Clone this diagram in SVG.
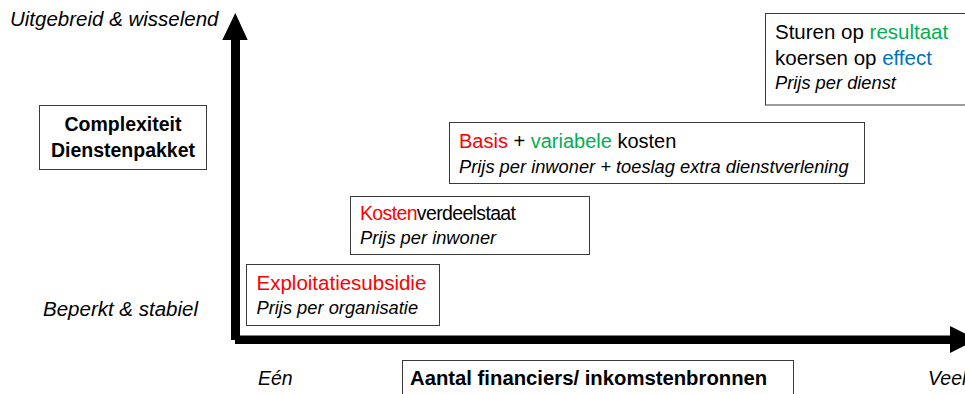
<svg xmlns="http://www.w3.org/2000/svg" width="965" height="394" viewBox="0 0 965 394">
<style>
text{font-family:"Liberation Sans",Arial,sans-serif;fill:#000}
.box{fill:#fff;stroke:#3a3a3a;stroke-width:1}
.main{font-size:20.5px}
.sub{font-size:18.3px;font-style:italic}
.axl{font-size:20.5px;font-style:italic}
.bold{font-size:19.5px;font-weight:bold}
.red{fill:#FF0000}
.green{fill:#00B050}
.blue{fill:#0070C0}
</style>
<rect width="965" height="394" fill="#fff"/>
<g id="axes">
<rect x="231" y="38" width="9" height="302" fill="#000"/>
<polygon points="222.3,40 247.7,40 235.3,13" fill="#000"/>
<rect x="235" y="335.5" width="716" height="8.5" fill="#000"/>
<polygon points="950,326 950,353 977,339.5" fill="#000"/>
</g>
<g id="axis-labels">
<text class="axl" x="10" y="26">Uitgebreid &amp; wisselend</text>
<text class="axl" x="43" y="316">Beperkt &amp; stabiel</text>
<text class="axl" x="258" y="385" style="font-size:19.5px">Eén</text>
<text class="axl" x="928" y="385" style="font-size:19.5px">Veel</text>
</g>
<g id="y-title">
<rect class="box" x="39.5" y="105.5" width="167" height="64"/>
<text class="bold" x="123" y="130.5" text-anchor="middle">Complexiteit</text>
<text class="bold" x="123" y="157" text-anchor="middle">Dienstenpakket</text>
</g>
<g id="x-title">
<rect class="box" x="402.5" y="360.5" width="391" height="44"/>
<text class="bold" x="410" y="385" style="font-size:20.3px">Aantal financiers/ inkomstenbronnen</text>
</g>
<g id="exploitatie">
<rect class="box" x="246.5" y="264.5" width="193" height="61"/>
<text class="main red" x="256.5" y="290">Exploitatiesubsidie</text>
<text class="sub" x="256.5" y="314">Prijs per organisatie</text>
</g>
<g id="kosten">
<rect class="box" x="350.5" y="196.5" width="239" height="58"/>
<text class="main" x="360" y="220" textLength="156" style="font-size:19.5px"><tspan class="red">Kosten</tspan>verdeelstaat</text>
<text class="sub" x="360" y="243.5">Prijs per inwoner</text>
</g>
<g id="basis">
<rect class="box" x="449.5" y="122.5" width="415" height="61"/>
<text class="main" x="459" y="148" style="font-size:20px"><tspan class="red">Basis</tspan> + <tspan class="green">variabele</tspan> kosten</text>
<text class="sub" x="459" y="173">Prijs per inwoner + toeslag extra dienstverlening</text>
</g>
<g id="resultaat">
<rect class="box" x="765.5" y="13.5" width="215" height="91.5"/>
<text class="main" x="775" y="39">Sturen op <tspan class="green">resultaat</tspan></text>
<text class="main" x="775" y="65">koersen op <tspan class="blue">effect</tspan></text>
<text class="sub" x="775" y="89">Prijs per dienst</text>
</g>
</svg>
